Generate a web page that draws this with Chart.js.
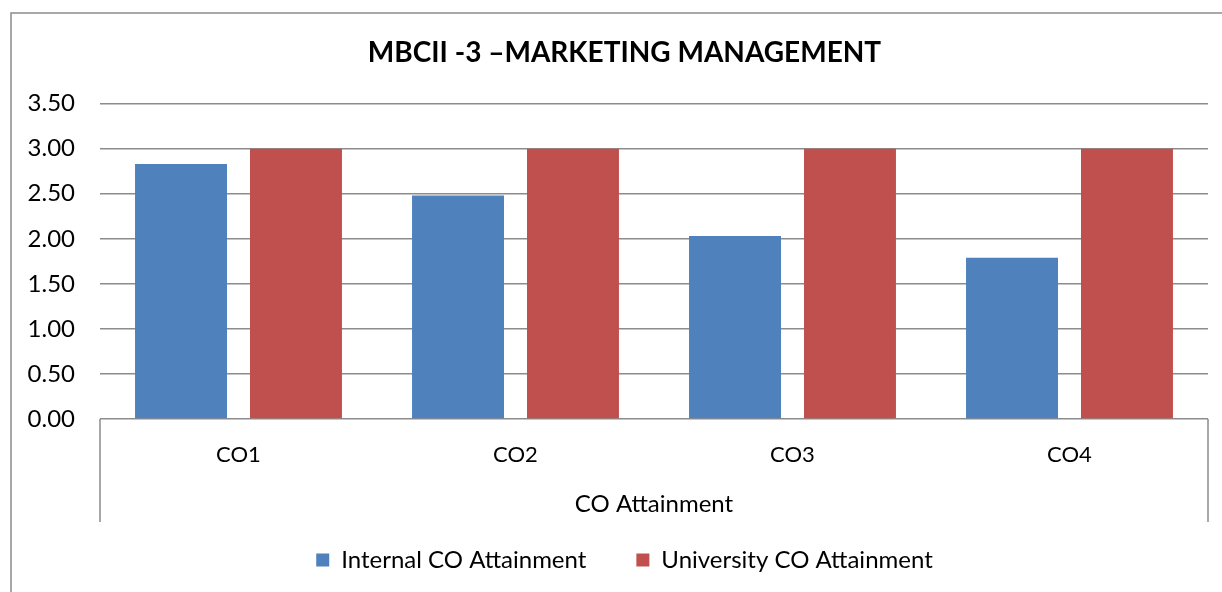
<!DOCTYPE html>
<html>
<head>
<meta charset="utf-8">
<script src="https://cdn.jsdelivr.net/npm/chart.js@4.4.1/dist/chart.umd.min.js"></script>
<style>
  html, body { margin: 0; padding: 0; background: #fff; }
  #wrap { width: 1222px; height: 592px; position: relative; }
</style>
</head>
<body>
<div id="wrap"><canvas id="chart" width="1222" height="592"></canvas></div>
<script>
// ── Data ────────────────────────────────────────────────────────
const categories       = ["CO1", "CO2", "CO3", "CO4"];
const internalValues   = [2.83, 2.48, 2.03, 1.79];
const universityValues = [3.00, 3.00, 3.00, 3.00];
const groupLabel       = "CO Attainment";
const chartTitle       = "MBCII -3 \u2013MARKETING MANAGEMENT";

// ── Styling ─────────────────────────────────────────────────────
const fontFamily = "Lato, 'Open Sans', sans-serif";
const lineGray   = "#8c8c8c";

// frame + end lines of the two-level category axis
const framePlugin = {
  id: "frame",
  afterDraw(chart) {
    const { ctx, chartArea } = chart;
    const lineEnd = chartArea.bottom + 103;
    ctx.save();
    ctx.strokeStyle = lineGray;
    ctx.lineWidth = 1.5;
    ctx.strokeRect(11, 13, 1300, 700);
    ctx.beginPath();
    ctx.moveTo(chartArea.left, chartArea.bottom);
    ctx.lineTo(chartArea.left, lineEnd);
    ctx.moveTo(chartArea.right, chartArea.bottom);
    ctx.lineTo(chartArea.right, lineEnd);
    ctx.stroke();
    ctx.restore();
  },
};

new Chart(document.getElementById("chart"), {
  type: "bar",
  data: {
    labels: categories,
    datasets: [
      {
        label: "Internal CO Attainment",
        data: internalValues,
        backgroundColor: "#4f81bd",
        categoryPercentage: 0.83,
        barPercentage: 0.8,
      },
      {
        label: "University CO Attainment",
        data: universityValues,
        backgroundColor: "#c0504d",
        categoryPercentage: 0.83,
        barPercentage: 0.8,
      },
    ],
  },
  options: {
    responsive: false,
    animation: false,
    devicePixelRatio: 1,
    layout: { padding: { left: 27, right: 0, top: 0, bottom: 10 } },
    plugins: {
      title: {
        display: true,
        text: chartTitle,
        color: "#000",
        font: { family: fontFamily, size: 28, weight: "bold" },
        padding: { top: 36, bottom: 34 },
      },
      legend: {
        position: "bottom",
        labels: {
          color: "#000",
          font: { family: fontFamily, size: 24 },
          boxWidth: 13,
          boxHeight: 13,
          padding: 50,
        },
      },
      tooltip: { enabled: false },
    },
    scales: {
      x: {
        grid: { display: false },
        border: { display: false },
        ticks: { color: "#000", font: { family: fontFamily, size: 22 }, padding: 15 },
        title: {
          display: true,
          text: groupLabel,
          color: "#000",
          font: { family: fontFamily, size: 24 },
          padding: { top: 0, bottom: -21 },
        },
        afterFit(scale) { scale.height = 79; },
      },
      y: {
        min: 0,
        max: 3.5,
        grid: { color: lineGray, lineWidth: 1.5, drawTicks: false },
        border: { display: false },
        ticks: {
          stepSize: 0.5,
          color: "#000",
          font: { family: fontFamily, size: 24 },
          padding: 25,
          callback: (v) => v.toFixed(2),
        },
        afterFit(scale) { scale.width = 73; },
      },
      // empty right-hand margin strip
      yRight: {
        position: "right",
        grid: { display: false },
        border: { display: false },
        ticks: { display: false },
        afterFit(scale) { scale.width = 14; },
      },
    },
  },
  plugins: [framePlugin],
});
</script>
</body>
</html>
